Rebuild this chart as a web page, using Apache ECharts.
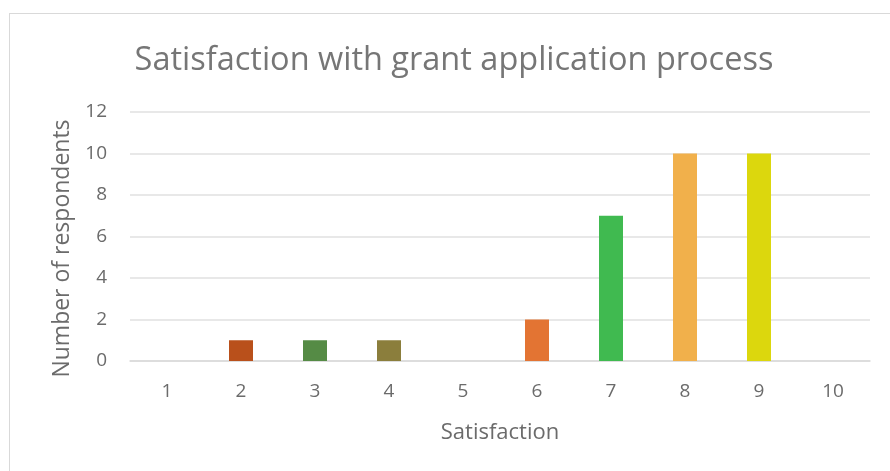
<!DOCTYPE html>
<html>
<head>
<meta charset="utf-8">
<script src="https://cdn.jsdelivr.net/npm/echarts@6/dist/echarts.min.js"></script>
<style>
  html, body { margin: 0; padding: 0; background: #fff; }
  .frame {
    position: absolute;
    left: 9px;
    top: 13px;
    width: 900px;
    height: 480px;
    border-left: 1px solid #d9d9d9;
    border-top: 1px solid #d9d9d9;
  }
  #chart { position: absolute; left: 0; top: 0; width: 890px; height: 471px; }
</style>
</head>
<body>
<div class="frame"></div>
<div id="chart"></div>
<script>
const categories = ['1', '2', '3', '4', '5', '6', '7', '8', '9', '10']
const respondents = [0, 1, 1, 1, 0, 2, 7, 10, 10, 0]
const barColors = ['#4472C4', '#B9501B', '#558B45', '#8B7E3C', '#A5A5A5', '#E37433', '#40BA50', '#F1B04B', '#DCD70D', '#5B9BD5']

const FONT = '"Open Sans", "Liberation Sans", sans-serif'

const chart = echarts.init(document.getElementById('chart'), null, { renderer: 'canvas' })

const option = {
  animation: false,
  backgroundColor: 'transparent',
  title: {
    text: 'Satisfaction with grant application process',
    left: 449,
    top: 39,
    textAlign: 'center',
    textStyle: {
      fontFamily: FONT,
      fontSize: 32.5,
      fontWeight: 'normal',
      color: '#767676'
    }
  },
  grid: {
    left: 130,
    right: 20,
    top: 112,
    bottom: 110
  },
  xAxis: {
    type: 'category',
    data: categories,
    name: 'Satisfaction',
    nameLocation: 'middle',
    nameGap: 61,
    nameTextStyle: { fontFamily: FONT, fontSize: 22, color: '#6b6b6b' },
    axisLine: { lineStyle: { color: '#d9d9d9', width: 1.5 } },
    axisTick: { show: false },
    axisLabel: { fontFamily: FONT, fontSize: 19, color: '#6b6b6b', margin: 21 }
  },
  yAxis: {
    type: 'value',
    min: 0,
    max: 12,
    interval: 2,
    name: 'Number of respondents',
    nameLocation: 'middle',
    nameGap: 56,
    nameTextStyle: { fontFamily: FONT, fontSize: 23, color: '#6b6b6b', padding: [0, 24, 0, 0] },
    axisLine: { show: false },
    axisTick: { show: false },
    axisLabel: { fontFamily: FONT, fontSize: 19, color: '#6b6b6b', margin: 23 },
    splitLine: { lineStyle: { color: '#e0e0e0', width: 1.5 } }
  },
  series: [
    {
      type: 'bar',
      barWidth: 24,
      data: respondents.map((v, i) => ({
        value: v,
        itemStyle: { color: barColors[i] }
      }))
    }
  ]
}

chart.setOption(option)
</script>
</body>
</html>
